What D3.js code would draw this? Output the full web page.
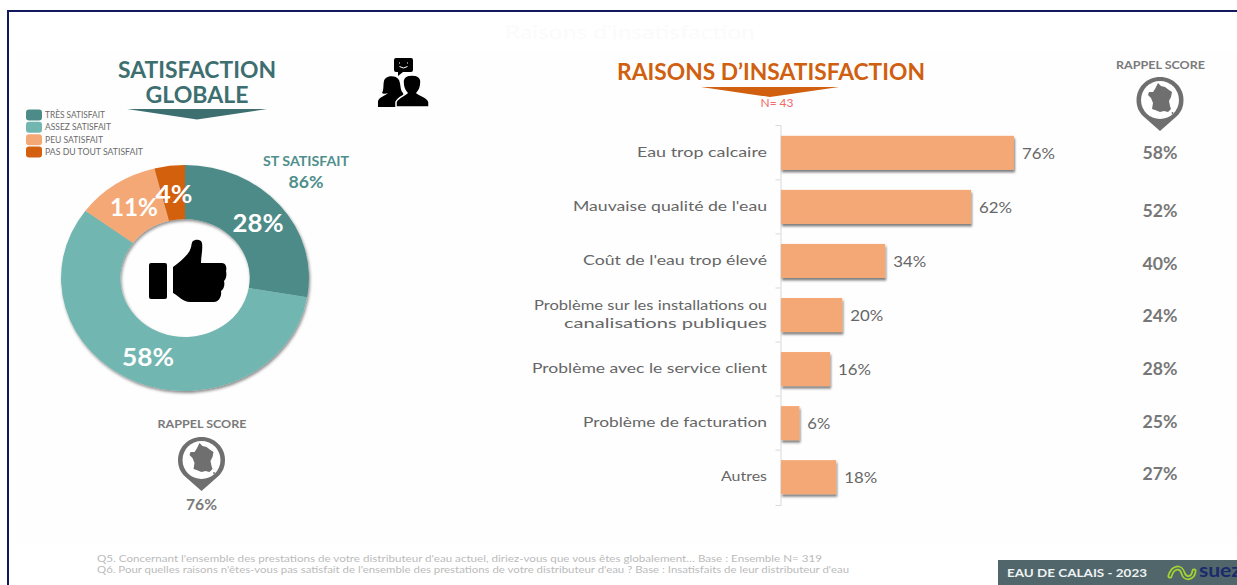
<!DOCTYPE html>
<html lang="fr">
<head>
<meta charset="utf-8">
<script src="https://cdn.jsdelivr.net/npm/d3@7/dist/d3.min.js"></script>
<style>
html,body{margin:0;padding:0;background:#fff;overflow:hidden}
svg{display:block;font-family:Lato,"Open Sans",sans-serif}
.domain,.tick line{stroke:#d9d9d9;stroke-width:1}
</style>
</head>
<body>
<svg id="c" width="1237" height="585"></svg>
<script>
const satisfactionLabels = ["TRÈS SATISFAIT","ASSEZ SATISFAIT","PEU SATISFAIT","PAS DU TOUT SATISFAIT"];
const satisfactionValues = [28,58,11,4];
const satisfactionColors = ["#4d8b88","#72b6b1","#f4a876","#d2600f"];
const reasonLabels = ["Eau trop calcaire","Mauvaise qualité de l'eau","Coût de l'eau trop élevé","Problème sur les installations ou|canalisations publiques","Problème avec le service client","Problème de facturation","Autres"];
const reasonValues = [76,62,34,20,16,6,18];
const recallValues = [58,52,40,24,28,25,27];
const globalRecall = 76;
const topTwoScore = 86;

const svg = d3.select("#c");
const defs = svg.append("defs");
const shadow = (id,dx,dy,sd,op)=>defs.append("filter").attr("id",id)
  .attr("x","-15%").attr("y","-15%").attr("width","130%").attr("height","130%")
  .append("feDropShadow").attr("dx",dx).attr("dy",dy).attr("stdDeviation",sd)
  .attr("flood-color","#000").attr("flood-opacity",op);
shadow("sd",1,2,1.6,.45);
shadow("sb",1,2.5,1.2,.5);

// frame and faint panel
svg.append("rect").attr("x",17).attr("y",52).attr("width",1220).attr("height",491).attr("fill","#fefefe");
svg.append("path").attr("d","M8 585V11H1237").attr("fill","none").attr("stroke","#101a5c").attr("stroke-width",2);

function txt(x,y,s,size,fill,opt={}){
  const t = svg.append("text").attr("x",x).attr("y",y).attr("font-size",size).attr("fill",fill)
    .attr("text-anchor",opt.anchor||"middle").attr("font-weight",opt.weight||400).text(s);
  if(opt.len) t.attr("textLength",opt.len).attr("lengthAdjust","spacingAndGlyphs");
  return t;
}
txt(630,39,"Raisons d'insatisfaction",19,"#fbfbfb",{len:250});

// left heading
txt(197,78,"SATISFACTION",22,"#3d6f70",{weight:700,len:158});
txt(197,103,"GLOBALE",22,"#3d6f70",{weight:700,len:103});
svg.append("path").attr("d","M127 109H267L197 119.500Z").attr("fill","#3d6f70");

// legend
const legY = d3.scalePoint().domain(satisfactionLabels).range([115,152]);
satisfactionLabels.forEach((l,i)=>{
  svg.append("rect").attr("x",26).attr("y",legY(l)-5.500).attr("width",16).attr("height",11).attr("rx",3).attr("fill",satisfactionColors[i]);
  txt(45,legY(l)+3,l,8.500,"#6a6a6a",{anchor:"start",len:[60,66,58,98][i]});
});

// donut
const pie = d3.pie().sort(null).value(d=>d);
const arc = d3.arc().innerRadius(59).outerRadius(113);
const donut = svg.append("g").attr("transform","translate(185,278) scale(1.097,1)").attr("filter","url(#sd)");
donut.selectAll("path").data(pie(satisfactionValues)).join("path").attr("d",arc).attr("fill",(d,i)=>satisfactionColors[i]);
const labelPos = [[258,232],[148,366],[134,216],[174,203]];
const labelLen = [51,52,48,37];
satisfactionValues.forEach((v,i)=>txt(labelPos[i][0],labelPos[i][1],v+"%",25,"#fff",{weight:700,len:labelLen[i]}));
txt(306,166,"ST SATISFAIT",14,"#4f8f8c",{weight:700,len:86});
txt(306,188,topTwoScore+"%",17,"#4f8f8c",{weight:700,len:35});

// thumb icon
svg.append("path").attr("fill","#000").attr("d",
 "M151 263H165Q167 263 167 265V297Q167 299 165 299H151Q149 299 149 297V265Q149 263 151 263Z"+
 "M173 267C180 262 188 255 190 250C192 246 191 243 193 241C196 239 201 239 202 243C203 250 201 256 201 263H222C226 263 227 268 226 271C227 275 226 279 224 281C225 285 224 289 221 291C222 296 219 302 214 302H190C183 302 179 296 173 293Z");

// people icon
const people = svg.append("g");
people.append("path").attr("fill","#000").attr("d","M396 58H411Q413 58 413 60V70Q413 72 411 72H403L398 76V72H396Q394 72 394 70V60Q394 58 396 58Z");
people.append("path").attr("fill","none").attr("stroke","#fff").attr("stroke-width",1).attr("d","M399.500 62.500V63.500M407.500 62.500V63.500M399.500 66.500Q403.500 69.500 407.500 66.500");
people.append("path").attr("fill","#000").attr("d","M378 107V101C379 97 385 96 388 93C386 94 383 94 382 93C384 90 383 85 384 81C385 76 395 74 399 80C401 85 400 90 403 93L406 107Z");
people.append("path").attr("fill","#000").attr("stroke","#fff").attr("stroke-width",1.500).attr("d","M396 107V102C398 97 404 96 407 93C404 90 403 85 403 81C404 73 420 73 421 81C421 86 420 90 417 93C421 96 428 97 429 102V107Z");

// recall pin
function pin(cx,top){
  const g = svg.append("g").attr("transform",`translate(${cx},${top})`);
  g.append("path").attr("fill","#6f6f6f").attr("d","M0 0C13 0 23.500 10 23.500 23C23.500 30 21 35 17 39L0 54L-17 39C-21 35 -23.500 30 -23.500 23C-23.500 10 -13 0 0 0Z");
  g.append("circle").attr("cy",23).attr("r",19).attr("fill","#fff");
  g.append("path").attr("fill","#6f6f6f").attr("d","M-2 6L1 9L5 10L9 13L12 15L11 20L9 24L10 29L11 32L8 35L4 34L0 35L-5 33L-8 32L-7 26L-9 21L-12 18L-11 15L-7 15L-5 12Z");
  g.append("circle").attr("cx",12.500).attr("cy",36).attr("r",.9).attr("fill","#6f6f6f");
}
txt(202,428,"RAPPEL SCORE",11.500,"#7a7a7a",{weight:700,len:89});
pin(201.500,437);
txt(201.500,510,globalRecall+"%",15,"#7a7a7a",{weight:700,len:31});
txt(1160.500,69,"RAPPEL SCORE",11.500,"#7a7a7a",{weight:700,len:89});
pin(1160,77);

// right heading
txt(771,80,"RAISONS D’INSATISFACTION",22,"#d05f10",{weight:700,len:308});
svg.append("path").attr("d","M701 87H839L770 97Z").attr("fill","#d05f10");
txt(777,107,"N= 43",10.500,"#f46a6a",{len:33});

// bar chart
const x = d3.scaleLinear().domain([0,100]).range([781,1087.500]);
const y = d3.scaleBand().domain(reasonLabels).range([125,505]).paddingInner(.37).paddingOuter(.2);
const step = y.step();
const axis = d3.axisLeft(y).tickSize(5).tickSizeOuter(5).tickFormat("");
const axG = svg.append("g").attr("transform","translate(780.500,0)").call(axis);
axG.selectAll(".tick").remove();
// ticks between categories, as in the source chart
axG.selectAll(".sep").data(reasonLabels.slice(1)).join("line").attr("class","sep")
  .attr("x1",-5).attr("x2",0).attr("y1",d=>y(d)-y.paddingInner()*step/2).attr("y2",d=>y(d)-y.paddingInner()*step/2)
  .attr("stroke","#d9d9d9");

svg.append("g").selectAll("rect").data(reasonLabels).join("rect")
  .attr("x",x(0)).attr("y",d=>y(d)).attr("height",y.bandwidth())
  .attr("width",(d,i)=>x(reasonValues[i])-x(0)).attr("fill","#f4a876").attr("filter","url(#sb)");

const mid = d=>y(d)+y.bandwidth()/2;
reasonLabels.forEach((l,i)=>{
  const parts = l.split("|");
  parts.forEach((p,k)=>txt(767,mid(l)+4+(k-(parts.length-1)/2)*17.500,p,13.500,"#666",{anchor:"end",len:parts.length>1?[233,203][k]:[130,194,184,0,235,184,46][i]}));
  txt(x(reasonValues[i])+8,mid(l)+6,reasonValues[i]+"%",16,"#666",{anchor:"start",len:reasonValues[i]<10?23:33});
});
const recY = [159,217,270,322,375,428,480];
recallValues.forEach((v,i)=>txt(1160,recY[i],v+"%",16.500,"#777",{weight:700,len:35}));

// notes
txt(97,562,"Q5. Concernant l'ensemble des prestations de votre distributeur d'eau actuel, diriez-vous que vous êtes globalement… Base : Ensemble N= 319",9.500,"#bbb",{anchor:"start",len:725});
txt(97,573,"Q6. Pour quelles raisons n'êtes-vous pas satisfait de l'ensemble des prestations de votre distributeur d'eau ? Base : Insatisfaits de leur distributeur d'eau",9.500,"#bbb",{anchor:"start",len:752});

// footer band
svg.append("rect").attr("x",998).attr("y",560).attr("width",239).attr("height",25).attr("fill","#50666b");
txt(1007,577,"EAU DE CALAIS - 2023",12,"#eef2f2",{anchor:"start",weight:700,len:140});
const logo = svg.append("g").attr("fill","none").attr("stroke","#a4d233").attr("stroke-linecap","round");
logo.append("path").attr("stroke-width",5).attr("d","M1170 576C1173 566 1181 566 1183 573C1185 580 1193 579 1194 571");
logo.append("path").attr("stroke-width",1.500).attr("stroke","#50666b").attr("d","M1170 576C1173 566 1181 566 1183 573C1185 580 1193 579 1194 571");
txt(1199,577,"suez",19,"#1b2a6b",{anchor:"start",weight:700,len:42});
</script>
</body>
</html>
